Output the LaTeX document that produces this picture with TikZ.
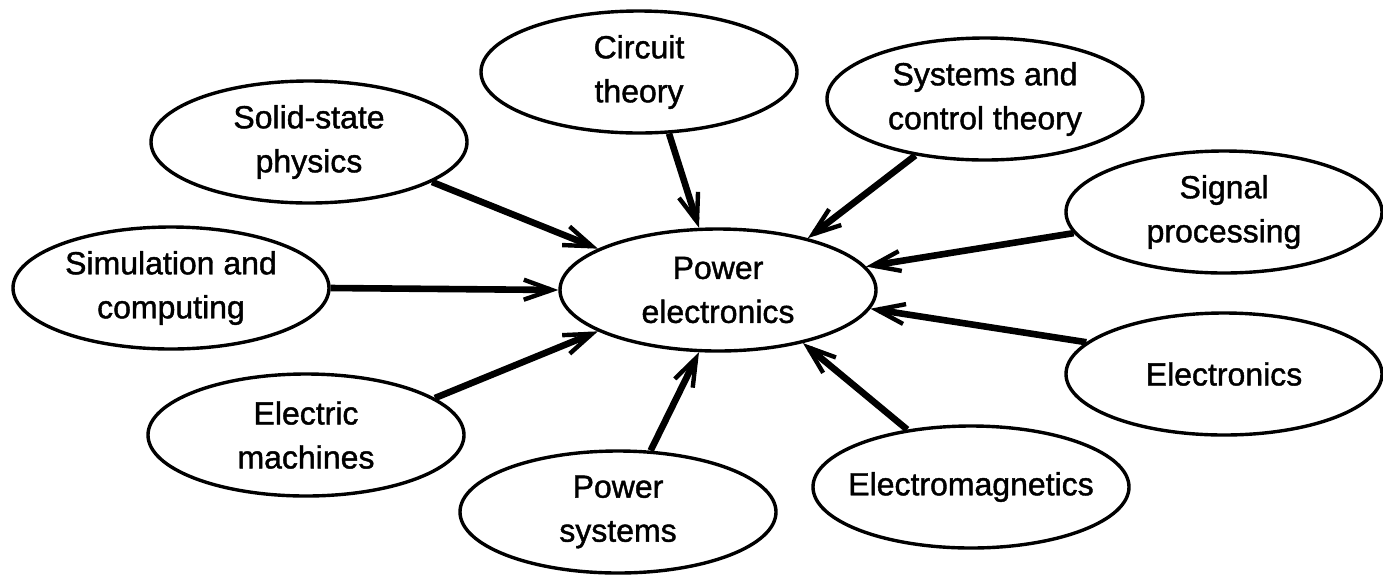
\documentclass[tikz,border=0pt]{standalone}
\usepackage{fontspec}
\setmainfont{Liberation Sans}
\newfontfamily\topicfont{Liberation Sans}[FakeBold=1.3]
\usetikzlibrary{shapes.geometric,arrows.meta}
\begin{document}
\begin{tikzpicture}[x=0.5pt,y=-0.5pt,
  topic/.style={ellipse,draw,line width=1.7pt,minimum width=158pt,minimum height=61pt,
    inner xsep=-10pt,inner ysep=0pt,align=center,font=\topicfont\fontsize{16pt}{22pt}\selectfont},
  feed/.style={line width=3.3pt,-{Straight Barb[length=14pt,width=10pt,line width=2.2pt]}}]
\useasboundingbox (0,0) rectangle (1383,575);
\node[topic] (ct) at (639,72) {Circuit\\theory};
\node[topic] (ss) at (309,142) {Solid-state\\physics};
\node[topic] (sc) at (985,99) {Systems and\\control theory};
\node[topic] (sp) at (1224,212) {Signal\\processing};
\node[topic] (sim) at (171,288) {Simulation and\\computing};
\node[topic] (pe) at (718,290) {Power\\electronics};
\node[topic] (el) at (1224,374) {Electronics};
\node[topic] (em) at (306,435) {Electric\\machines};
\node[topic] (ps) at (618,512) {Power\\systems};
\node[topic] (emg) at (971,487) {Electromagnetics};
\draw[feed] (ct.-64) -- (pe.107);
\draw[feed] (sc.-141) -- (pe.30);
\draw[feed] (sp.-172) -- (pe.9);
\draw[feed] (ss.-18) -- (pe.161);
\draw[feed] (sim.0) -- (pe.180);
\draw[feed] (em.16) -- (pe.-161);
\draw[feed] (ps.62) -- (pe.-107);
\draw[feed] (emg.138) -- (pe.-32);
\draw[feed] (el.167) -- (pe.-7.5);
\end{tikzpicture}
\end{document}
